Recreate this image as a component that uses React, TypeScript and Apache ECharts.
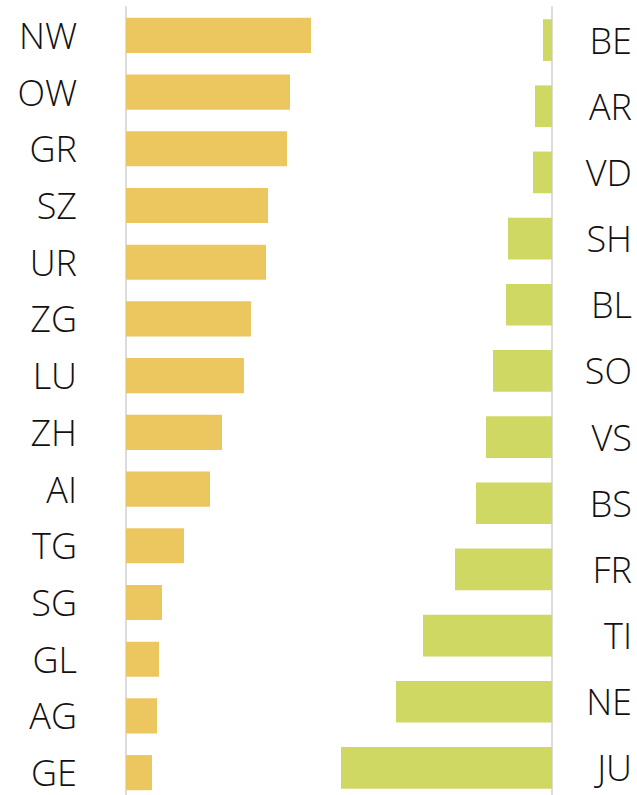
import React, { useEffect, useRef } from "react";
import * as echarts from "echarts";

const leftCategories = ["NW", "OW", "GR", "SZ", "UR", "ZG", "LU", "ZH", "AI", "TG", "SG", "GL", "AG", "GE"];
const leftValues = [185, 164, 161, 142, 140, 125, 118, 96, 84, 58, 36, 33, 31, 26];

const rightCategories = ["BE", "AR", "VD", "SH", "BL", "SO", "VS", "BS", "FR", "TI", "NE", "JU"];
const rightValues = [9, 17, 19, 44, 46, 59, 66, 76, 97, 129, 156, 211];

const LEFT_COLOR = "#ECC760";
const RIGHT_COLOR = "#CFD862";
const AXIS_COLOR = "#dcdcdc";
const FONT = "'Open Sans', sans-serif";

export default function App() {
  const ref = useRef<HTMLDivElement>(null);
  useEffect(() => {
    if (!ref.current) return;
    const chart = echarts.init(ref.current, null, { renderer: "svg" });
    const labelStyle = { fontFamily: FONT, fontSize: 36, fontWeight: 300, color: "#111", lineHeight: 30 };
    chart.setOption({
      animation: false,
      backgroundColor: "#fff",
      grid: [
        { left: 126, top: 7, width: 200, height: 794 },
        { left: 300, top: 7, width: 252, height: 794 },
      ],
      xAxis: [
        { type: "value", gridIndex: 0, min: 0, max: 200, show: false },
        { type: "value", gridIndex: 1, min: 0, max: 252, inverse: true, show: false },
      ],
      yAxis: [
        {
          type: "category",
          gridIndex: 0,
          data: leftCategories,
          inverse: true,
          position: "left",
          axisLine: { show: true, lineStyle: { color: AXIS_COLOR, width: 2 } },
          axisTick: { show: false },
          axisLabel: { ...labelStyle, margin: 49 },
          splitLine: { show: false },
        },
        {
          type: "category",
          gridIndex: 1,
          data: rightCategories,
          inverse: true,
          position: "right",
          axisLine: { show: true, lineStyle: { color: AXIS_COLOR, width: 2 } },
          axisTick: { show: false },
          axisLabel: { ...labelStyle, margin: 80, align: "right" },
          splitLine: { show: false },
        },
      ],
      series: [
        {
          type: "bar",
          xAxisIndex: 0,
          yAxisIndex: 0,
          data: leftValues,
          barWidth: "62%",
          itemStyle: { color: LEFT_COLOR },
        },
        {
          type: "bar",
          xAxisIndex: 1,
          yAxisIndex: 1,
          data: rightValues,
          barWidth: "63%",
          itemStyle: { color: RIGHT_COLOR },
        },
      ],
    });
    return () => chart.dispose();
  }, []);
  return (
    <div
      ref={ref}
      style={{ position: "fixed", left: 0, top: 0, width: 637, height: 802, background: "#fff" }}
    />
  );
}
